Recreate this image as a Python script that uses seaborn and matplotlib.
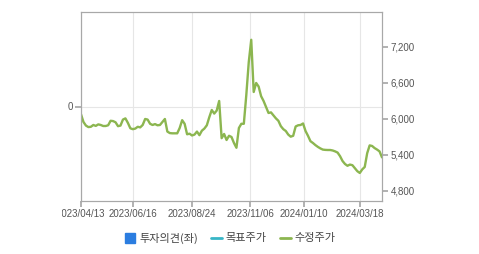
import numpy as np
import pandas as pd
import matplotlib
matplotlib.use("Agg")
import matplotlib.pyplot as plt
import seaborn as sns
from matplotlib.lines import Line2D
from matplotlib.transforms import Bbox, TransformedBbox

sns.set_theme(style="white")
plt.rcParams["font.family"] = ["Liberation Sans", "Noto Sans CJK KR", "DejaVu Sans"]

# ---- data ----
start_date = "2023-04-13"
end_date = "2024-04-12"
krx_holidays = [
    "2023-05-01", "2023-05-05", "2023-05-29", "2023-06-06", "2023-08-15",
    "2023-09-28", "2023-09-29", "2023-10-02", "2023-10-03", "2023-10-09",
    "2023-12-25", "2023-12-29", "2024-01-01", "2024-02-09", "2024-02-12",
    "2024-03-01", "2024-04-10",
]
tick_dates = ["2023-04-13", "2023-06-16", "2023-08-24",
              "2023-11-06", "2024-01-10", "2024-03-18"]
# adjusted close (수정주가), every second trading day
prices = [
    6078, 5950, 5890, 5865, 5870, 5900, 5885, 5910, 5900, 5883,
    5883, 5895, 5970, 5965, 5945, 5880, 5890, 5990, 6010, 5935,
    5845, 5830, 5840, 5870, 5860, 5900, 6000, 5990, 5920, 5900,
    5915, 5895, 5900, 5950, 6000, 5790, 5765, 5761, 5761, 5761,
    5850, 5980, 5920, 5745, 5755, 5725, 5740, 5790, 5730, 5805,
    5840, 5895, 6030, 6150, 6090, 6140, 6300, 5680, 5750, 5650,
    5720, 5700, 5600, 5520, 5850, 5920, 5920, 6400, 6950, 7320,
    6450, 6600, 6540, 6380, 6300, 6200, 6100, 6110, 6060, 6010,
    5970, 5880, 5830, 5800, 5740, 5705, 5720, 5875, 5895, 5900,
    5925, 5800, 5720, 5630, 5600, 5565, 5535, 5510, 5490, 5485,
    5483, 5483, 5475, 5460, 5440, 5380, 5300, 5250, 5220, 5240,
    5230, 5180, 5130, 5100, 5160, 5200, 5430, 5560, 5550, 5515,
    5490, 5460, 5360,
]
right_ticks = [4800, 5400, 6000, 6600, 7200]
legend_labels = ["투자의견(좌)", "목표주가", "수정주가"]

# ---- build ----
trading_days = pd.bdate_range(start_date, end_date, freq="C",
                              holidays=krx_holidays)
sample_days = trading_days[::2][:len(prices)]
df = pd.DataFrame({"pos": trading_days.get_indexer(sample_days),
                   "price": prices[:len(sample_days)]})

GREEN = "#8cb650"
GRID = "#e6e6e6"
SPINE = "#a8a8a8"
TXT = "#555555"

fig = plt.figure(figsize=(4.79, 2.54), dpi=100)
ax = fig.add_axes([81 / 479, 53 / 254, 301 / 479, 189 / 254])
ax2 = ax.twinx()

sns.lineplot(data=df, x="pos", y="price", ax=ax2, color=GREEN,
             linewidth=1.7)

ax.set_xlim(0, len(trading_days) - 1)
ax.set_ylim(-1, 1)
ax.set_yticks([0])
ax.set_yticklabels(["0"])
xt = trading_days.get_indexer(pd.to_datetime(tick_dates))
ax.set_xticks(xt)
ax.set_xticklabels([d.replace("-", "/") for d in tick_dates])
ax.grid(True, color=GRID, linewidth=0.8)
ax.set_axisbelow(True)

ax2.set_ylim(4633, 7783)
ax2.set_yticks(right_ticks)
ax2.set_yticklabels([f"{v:,}" for v in right_ticks])
ax2.grid(False)
ax2.set_xlabel("")
ax2.set_ylabel("")
ax.set_xlabel("")

for a in (ax, ax2):
    for s in a.spines.values():
        s.set_color(SPINE)
        s.set_linewidth(0.8)
ax.tick_params(axis="x", bottom=True, length=4, color=SPINE, labelsize=7,
               labelcolor=TXT, pad=2)
ax.tick_params(axis="y", left=True, length=4, color=SPINE, labelsize=7,
               labelcolor=TXT, pad=2)
ax2.tick_params(axis="y", right=True, length=4, color=SPINE, labelsize=7,
                labelcolor=TXT, pad=2)

# first date label is clipped at the container edge in the reference
first = ax.get_xticklabels()[0]
first.set_clip_box(TransformedBbox(Bbox([[62 / 479, 0], [1, 1]]),
                                   fig.transFigure))
first.set_clip_on(True)

handles = [
    Line2D([], [], marker="s", linestyle="none", markersize=7,
           color="#2b7de0", label=legend_labels[0]),
    Line2D([], [], color="#38b6c6", lw=2, label=legend_labels[1]),
    Line2D([], [], color=GREEN, lw=2, label=legend_labels[2]),
]
leg = fig.legend(handles=handles, loc="center", bbox_to_anchor=(0.48, 0.063),
                 ncol=3, frameon=False, handlelength=1.0, handletextpad=0.3,
                 columnspacing=1.2,
                 prop={"family": ["Noto Sans CJK KR", "DejaVu Sans"],
                       "size": 8})
for t in leg.get_texts():
    t.set_color("#444444")

fig.savefig("out.png", dpi=100)
